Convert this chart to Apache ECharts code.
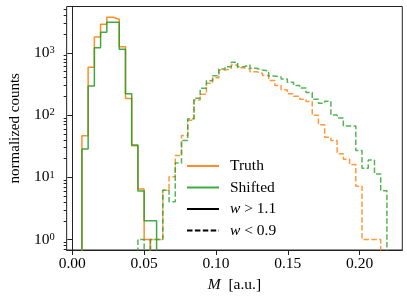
<!DOCTYPE html>
<html>
<head>
<meta charset="utf-8">
<script src="https://cdn.jsdelivr.net/npm/echarts@6/dist/echarts.min.js"></script>
<style>html,body{margin:0;padding:0;background:#fff}#c{width:407px;height:305px}</style>
</head>
<body>
<div id="c"></div>
<script>
// ---- data ----
const binStart = 0.0067;     // left edge of first bin (M)
const binWidth = 0.004333;   // bin width (M)
const nBins = 49;

const truthHigh = [46.6, 587, 1800, 2885, 3735, 3470, 1260, 184, 32, 6.5, 1, 0, 0, 0, 0, 0, 0, 0, 0, 0,
  0, 0, 0, 0, 0, 0, 0, 0, 0, 0, 0, 0, 0, 0, 0, 0, 0, 0, 0, 0, 0, 0, 0, 0, 0, 0, 0, 0, 0];
const shiftedHigh = [28.5, 294, 1213, 2140, 3100, 3100, 1143, 221, 33, 6, 2, 2, 0, 0, 0, 0, 0, 0, 0, 0,
  0, 0, 0, 0, 0, 0, 0, 0, 0, 0, 0, 0, 0, 0, 0, 0, 0, 0, 0, 0, 0, 0, 0, 0, 0, 0, 0, 0, 0];
const truthLow = [0, 0, 0, 0, 0, 0, 0, 0, 0, 0, 0, 1, 1, 6.2, 10.2, 22.5, 47, 83, 175, 216,
  325, 398, 531, 551, 640, 578, 551, 499, 470, 435, 360, 300, 256, 220, 200, 180, 165, 99, 70, 44,
  39, 24, 19.5, 16, 7.2, 1, 1, 1, 0];
const shiftedLow = [0, 0, 0, 0, 0, 0, 0, 0, 0, 1, 0, 1, 1, 6.2, 4.05, 17, 39, 87, 186, 270,
  357, 430, 551, 600, 706, 600, 640, 565, 531, 512, 425, 410, 380, 337, 300, 272, 230, 180, 155, 167,
  100, 90, 67, 67, 27, 14, 19, 11.3, 6.1];

const xTicks = [0, 0.05, 0.10, 0.15, 0.20];
const yDecades = [0, 1, 2, 3];          // 10^0 .. 10^3
const legendNames = ['Truth', 'Shifted', 'w > 1.1', 'w < 0.9'];

// ---- helpers ----
const edges = [];
for (let i = 0; i <= nBins; i++) edges.push(binStart + i * binWidth);
const LOW = -3;
const L = v => (v > 0 ? Math.log10(v) : LOW);
function stepPoints(h) {
  const pts = [[edges[0], LOW]];
  for (let i = 0; i < h.length; i++) {
    pts.push([edges[i], L(h[i])]);
    pts.push([edges[i + 1], L(h[i])]);
  }
  pts.push([edges[h.length], LOW]);
  return pts;
}
const minorTicks = [];
for (let n = -1; n <= 3; n++) for (let k = 2; k <= 9; k++) minorTicks.push(n + Math.log10(k));

const FONT = 'Liberation Serif';
const FS = 15.5;
const ORANGE = '#ff7f0e', GREEN = '#2ca02c';
const YMIN = -0.169, YMAX = 3.746;
const dash = [5.5, 2.4];
const hidden = {opacity: 0};

const chart = echarts.init(document.getElementById('c'), null, {renderer: 'canvas'});
chart.setOption({
  animation: false,
  backgroundColor: '#fff',
  grid: {left: 63.5, right: 4.7, top: 6.5, bottom: 55, show: true, borderColor: '#222', borderWidth: 1, backgroundColor: 'transparent'},
  xAxis: {
    type: 'value', min: -0.00392, max: 0.22972,
    axisLine: {show: true, onZero: false, lineStyle: {color: '#222', width: 1}},
    axisTick: {show: true, customValues: xTicks, length: 5, lineStyle: {color: '#222'}},
    axisLabel: {customValues: xTicks, formatter: v => v.toFixed(2), margin: 6, color: '#000', fontFamily: FONT, fontSize: FS},
    splitLine: {show: false},
    name: '{i|M}  [a.u.]', nameLocation: 'middle', nameGap: 24,
    nameTextStyle: {color: '#000', fontFamily: FONT, fontSize: FS, rich: {i: {fontStyle: 'italic', fontFamily: FONT, fontSize: FS}}}
  },
  yAxis: [{
    type: 'value', min: YMIN, max: YMAX, position: 'left',
    axisLine: {show: true, lineStyle: {color: '#222', width: 1}},
    axisTick: {show: true, customValues: yDecades, length: 5, lineStyle: {color: '#222'}},
    axisLabel: {customValues: yDecades, margin: 12, color: '#000',
      formatter: v => '{b|10}{s|' + Math.round(v) + '}',
      rich: {b: {fontFamily: FONT, fontSize: FS, color: '#000'}, s: {fontFamily: FONT, fontSize: 10.5, color: '#000', verticalAlign: 'top'}}},
    splitLine: {show: false},
    name: 'normalized counts', nameLocation: 'middle', nameGap: 38, nameRotate: 90,
    nameTextStyle: {color: '#000', fontFamily: FONT, fontSize: 15}
  }, {
    type: 'value', min: YMIN, max: YMAX, position: 'left',
    axisLine: {show: false},
    axisTick: {show: true, customValues: minorTicks, length: 3, lineStyle: {color: '#222'}},
    axisLabel: {show: false},
    splitLine: {show: false}
  }],
  legend: {
    orient: 'vertical', left: 181, top: 153, itemWidth: 32, itemHeight: 14, itemGap: 5.5,
    data: legendNames,
    itemStyle: hidden,
    formatter: n => (n.charAt(0) === 'w' ? '{i|w}' + n.slice(1) : n),
    textStyle: {color: '#000', fontFamily: FONT, fontSize: FS, lineHeight: 14, padding: [0, 0, 0, 6],
      rich: {i: {fontStyle: 'italic', fontFamily: FONT, fontSize: FS, lineHeight: 14}}}
  },
  series: [
    {name: 'Truth', type: 'line', data: stepPoints(truthHigh), symbol: 'none', clip: true, color: ORANGE,
      itemStyle: hidden, lineStyle: {color: ORANGE, width: 1.5, opacity: 0.9}},
    {name: 'Shifted', type: 'line', data: stepPoints(shiftedHigh), symbol: 'none', clip: true, color: GREEN,
      itemStyle: hidden, lineStyle: {color: GREEN, width: 1.5, opacity: 0.9}},
    {name: 'Truth low', type: 'line', data: stepPoints(truthLow), symbol: 'none', clip: true, color: ORANGE,
      itemStyle: hidden, lineStyle: {color: ORANGE, width: 1.5, type: dash, opacity: 0.8}},
    {name: 'Shifted low', type: 'line', data: stepPoints(shiftedLow), symbol: 'none', clip: true, color: GREEN,
      itemStyle: hidden, lineStyle: {color: GREEN, width: 1.5, type: dash, opacity: 0.8}},
    {name: 'w > 1.1', type: 'line', data: [], symbol: 'none', color: '#000', itemStyle: hidden, lineStyle: {color: '#000', width: 1.5}},
    {name: 'w < 0.9', type: 'line', data: [], symbol: 'none', color: '#000', itemStyle: hidden, lineStyle: {color: '#000', width: 1.5, type: dash}}
  ]
});
</script>
</body>
</html>
